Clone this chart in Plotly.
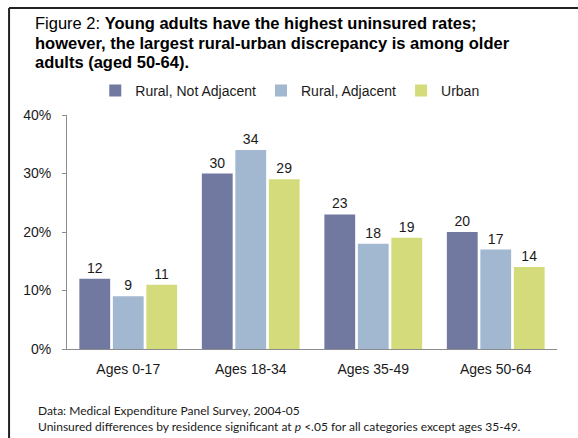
import plotly.graph_objects as go

categories = ["Ages 0-17", "Ages 18-34", "Ages 35-49", "Ages 50-64"]
series_names = ["Rural, Not Adjacent", "Rural, Adjacent", "Urban"]
rural_not_adjacent = [12, 30, 23, 20]
rural_adjacent = [9, 34, 18, 17]
urban = [11, 29, 19, 14]
series_values = [rural_not_adjacent, rural_adjacent, urban]
colors = ["#7279A0", "#A1B8D0", "#D4DB7B"]
y_ticks = [0, 10, 20, 30, 40]
y_tick_labels = ["0%", "10%", "20%", "30%", "40%"]
title_lines = [
    "Figure 2: <b>Young adults have the highest uninsured rates;</b>",
    "<b>however, the largest rural-urban discrepancy is among older</b>",
    "<b>adults (aged 50-64).</b>",
]
footnote = ("Data: Medical Expenditure Panel Survey, 2004-05<br>"
            "Uninsured differences by residence significant at <i>p</i> &lt;.05 "
            "for all categories except ages 35-49.")

W, H = 578, 438
L, R, T, B = 67, 20.5, 115, 89
pw = W - L - R
ph = H - T - B

def px_x(x):
    return (x - L) / pw

def px_y(y):
    return (H - B - y) / ph

fig = go.Figure()
for name, vals, col in zip(series_names, series_values, colors):
    fig.add_trace(go.Bar(
        x=categories, y=vals, name=name,
        marker=dict(color=col, line=dict(width=0)),
        text=[str(v) for v in vals], textposition="outside",
        textfont=dict(family="Liberation Sans, Arial", size=14, color="#1a1a1a"),
        cliponaxis=False,
    ))

fig.update_layout(
    width=W, height=H,
    margin=dict(l=L, r=R, t=T, b=B, pad=0),
    paper_bgcolor="white", plot_bgcolor="white",
    barmode="group", bargap=0.18, bargroupgap=0.08,
    font=dict(family="Liberation Sans, Arial", size=14, color="#1a1a1a"),
    showlegend=True,
    legend=dict(orientation="h", x=px_x(290), xanchor="center",
                y=px_y(91), yanchor="middle",
                font=dict(size=14), itemwidth=30,
                traceorder="normal", bgcolor="rgba(0,0,0,0)"),
    xaxis=dict(
        showline=True, linecolor="#8c8c8c", linewidth=1,
        ticks="", showgrid=False, zeroline=False,
        tickfont=dict(size=14), ticklabelstandoff=7,
    ),
    yaxis=dict(
        range=[0, 40], tickvals=y_ticks, ticktext=y_tick_labels,
        showline=True, linecolor="#8c8c8c", linewidth=1,
        ticks="outside", ticklen=4, tickcolor="#8c8c8c",
        showgrid=False, zeroline=False,
        tickfont=dict(size=14), ticklabelstandoff=8,
    ),
)

for i, line in enumerate(title_lines):
    fig.add_annotation(
        xref="paper", yref="paper", x=px_x(33), y=px_y(23 + 19.5 * i),
        xanchor="left", yanchor="middle", showarrow=False, text=line,
        font=dict(family="Liberation Sans, Arial", size=16.5, color="#000000"),
    )

# frame border (top and left)
fig.add_shape(type="line", xref="paper", yref="paper",
              x0=px_x(9), x1=px_x(W + 5), y0=px_y(8), y1=px_y(8),
              line=dict(color="#222222", width=2))
fig.add_shape(type="line", xref="paper", yref="paper",
              x0=px_x(9), x1=px_x(9), y0=px_y(8), y1=px_y(H + 5),
              line=dict(color="#222222", width=2))

fig.add_annotation(
    xref="paper", yref="paper", x=px_x(36), y=px_y(401),
    xanchor="left", yanchor="top", align="left", showarrow=False,
    text=footnote,
    font=dict(family="Lato, Open Sans", size=12, color="#1a1a1a"),
)

fig.write_html("out.html", config={"displayModeBar": False},
               post_script="document.body.style.margin='0';document.body.style.padding='0';")
